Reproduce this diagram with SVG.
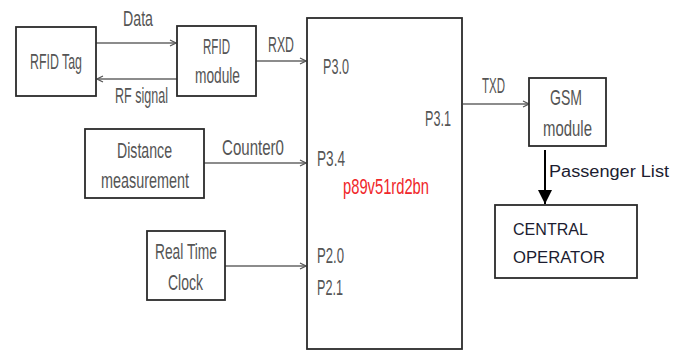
<svg xmlns="http://www.w3.org/2000/svg" width="685" height="350" viewBox="0 0 685 350">
<style>
.box{fill:#fff;stroke:#2b2b2b;stroke-width:1.8}
.t{font-family:"Liberation Sans",Arial,sans-serif;font-size:22px;fill:#555}
.d{font-family:"Liberation Sans",Arial,sans-serif;font-size:16px;fill:#1c1c30}
.c{fill:none;stroke:#666;stroke-width:1.3}
</style>
<defs>
<marker id="a" markerWidth="8" markerHeight="8" refX="7" refY="4" orient="auto" markerUnits="userSpaceOnUse">
<path d="M1,1 L7,4 L1,7" fill="none" stroke="#555" stroke-width="1.2"/>
</marker>
<marker id="b" markerWidth="16" markerHeight="14" refX="14" refY="7" orient="auto" markerUnits="userSpaceOnUse">
<path d="M0,0 L14,7 L0,14 Z" fill="#000"/>
</marker>
</defs>
<g id="connectors">
<line class="c" x1="96" y1="43" x2="176" y2="43" marker-end="url(#a)"/>
<line class="c" x1="177" y1="79" x2="97" y2="79" marker-end="url(#a)"/>
<line class="c" x1="256" y1="61" x2="306" y2="61" marker-end="url(#a)"/>
<line class="c" x1="204" y1="163" x2="306" y2="163" marker-end="url(#a)"/>
<line class="c" x1="225" y1="266" x2="306" y2="266" marker-end="url(#a)"/>
<line class="c" x1="463" y1="104" x2="529" y2="104" marker-end="url(#a)"/>
<line x1="545" y1="150" x2="545" y2="204" stroke="#000" stroke-width="2" marker-end="url(#b)"/>
<text class="t" x="123" y="26" textLength="30" lengthAdjust="spacingAndGlyphs">Data</text>
<text class="t" x="115" y="103" textLength="53" lengthAdjust="spacingAndGlyphs">RF signal</text>
<text class="t" x="268" y="52" textLength="26" lengthAdjust="spacingAndGlyphs">RXD</text>
<text class="t" x="222" y="155" textLength="62" lengthAdjust="spacingAndGlyphs">Counter0</text>
<text class="t" x="482" y="93" textLength="23" lengthAdjust="spacingAndGlyphs">TXD</text>
<text class="d" x="549" y="177" font-size="17" textLength="120" lengthAdjust="spacingAndGlyphs">Passenger List</text>
</g>
<g id="rfid-tag">
<rect class="box" x="16" y="27" width="80" height="69"/>
<text class="t" x="30" y="69" textLength="52" lengthAdjust="spacingAndGlyphs">RFID Tag</text>
</g>
<g id="rfid-module">
<rect class="box" x="177" y="26" width="79" height="70"/>
<text class="t" x="203" y="54" textLength="27" lengthAdjust="spacingAndGlyphs">RFID</text>
<text class="t" x="195" y="83" textLength="45" lengthAdjust="spacingAndGlyphs">module</text>
</g>
<g id="mcu">
<rect class="box" x="307" y="18" width="155" height="331"/>
<text class="t" x="323" y="74" textLength="26" lengthAdjust="spacingAndGlyphs">P3.0</text>
<text class="t" x="425" y="126" textLength="26" lengthAdjust="spacingAndGlyphs">P3.1</text>
<text class="t" x="317" y="166" textLength="28" lengthAdjust="spacingAndGlyphs">P3.4</text>
<text class="t" x="343" y="194" font-size="18" textLength="86" lengthAdjust="spacingAndGlyphs" style="fill:#f0262a">p89v51rd2bn</text>
<text class="t" x="317" y="263" textLength="27" lengthAdjust="spacingAndGlyphs">P2.0</text>
<text class="t" x="317" y="295" textLength="26" lengthAdjust="spacingAndGlyphs">P2.1</text>
</g>
<g id="gsm-module">
<rect class="box" x="529" y="78" width="77" height="68"/>
<text class="t" x="550" y="105" textLength="32" lengthAdjust="spacingAndGlyphs">GSM</text>
<text class="t" x="543" y="136" textLength="49" lengthAdjust="spacingAndGlyphs">module</text>
</g>
<g id="central-operator">
<rect class="box" x="495" y="205" width="142" height="73"/>
<text class="d" x="513" y="235" textLength="75" lengthAdjust="spacingAndGlyphs">CENTRAL</text>
<text class="d" x="513" y="263" textLength="92" lengthAdjust="spacingAndGlyphs">OPERATOR</text>
</g>
<g id="distance-measurement">
<rect class="box" x="85" y="129" width="119" height="69"/>
<text class="t" x="117" y="158" textLength="55" lengthAdjust="spacingAndGlyphs">Distance</text>
<text class="t" x="101" y="188" textLength="88" lengthAdjust="spacingAndGlyphs">measurement</text>
</g>
<g id="real-time-clock">
<rect class="box" x="147" y="231" width="78" height="69"/>
<text class="t" x="155" y="259" textLength="62" lengthAdjust="spacingAndGlyphs">Real Time</text>
<text class="t" x="168" y="290" textLength="35" lengthAdjust="spacingAndGlyphs">Clock</text>
</g>
</svg>
